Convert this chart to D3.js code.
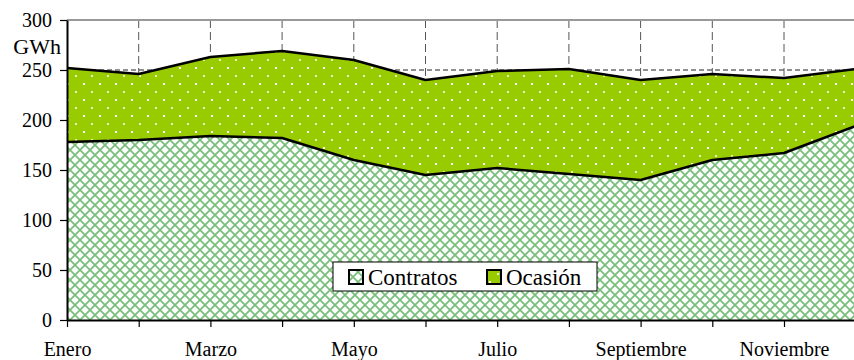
<!DOCTYPE html>
<html>
<head>
<meta charset="utf-8">
<script src="https://cdn.jsdelivr.net/npm/d3@7"></script>
<style>
  body { margin: 0; background: #fff; }
  svg text { font-family: "Liberation Serif", "Times New Roman", "DejaVu Serif", serif; }
</style>
</head>
<body>
<div class="container"></div>
<script>
var width = 854,
    height = 360,
    plotLeft = 67,
    plotTop = 20,
    plotBottom = 320,
    step = 71.7,
    serif = '"Liberation Serif", "Times New Roman", serif';

var months = ['Enero', 'Febrero', 'Marzo', 'Abril', 'Mayo', 'Junio', 'Julio',
              'Agosto', 'Septiembre', 'Octubre', 'Noviembre', 'Diciembre'];
var contratos = [178, 180, 184, 182, 160, 145, 152, 146, 140, 160, 167, 194];
var ocasion = [74, 66, 79, 87, 100, 95, 97, 105, 100, 86, 75, 57];
var yTicks = [0, 50, 100, 150, 200, 250, 300];
var keys = ['Contratos', 'Ocasión'];

var rows = months.map((m, i) => ({ mes: m, 'Contratos': contratos[i], 'Ocasión': ocasion[i] }));

var svg = d3.select('.container').append('svg')
    .attr('width', width)
    .attr('height', height)
    .style('display', 'block');

var x = d3.scalePoint()
    .domain(months)
    .range([plotLeft, plotLeft + step * (months.length - 1)]);

var y = d3.scaleLinear()
    .domain([0, 300])
    .range([plotBottom, plotTop]);

// patterns
var defs = svg.append('defs');

var hatch = defs.append('pattern')
    .attr('id', 'hatch')
    .attr('patternUnits', 'userSpaceOnUse')
    .attr('width', 10).attr('height', 10);
hatch.append('rect').attr('width', 10).attr('height', 10).attr('fill', '#fff');
hatch.append('path')
    .attr('d', 'M-1,-1L11,11M-1,11L11,-1')
    .attr('stroke', '#1f9424')
    .attr('stroke-opacity', 0.6)
    .attr('stroke-width', 1.8);

var dots = defs.append('pattern')
    .attr('id', 'dots')
    .attr('patternUnits', 'userSpaceOnUse')
    .attr('width', 16).attr('height', 16);
dots.append('rect').attr('width', 16).attr('height', 16).attr('fill', '#99cc00');
dots.append('rect').attr('x', 3).attr('y', 3).attr('width', 2).attr('height', 2).attr('fill', '#fff');
dots.append('rect').attr('x', 11).attr('y', 11).attr('width', 2).attr('height', 2).attr('fill', '#fff').attr('opacity', 0.75);

var fills = { 'Contratos': 'url(#hatch)', 'Ocasión': 'url(#dots)' };

// grid
var grid = svg.append('g');
grid.selectAll('.hgrid')
    .data(yTicks.filter(d => d > 0 && d < 300))
    .enter().append('line')
    .attr('x1', plotLeft).attr('x2', width)
    .attr('y1', d => y(d)).attr('y2', d => y(d))
    .attr('stroke', '#222')
    .attr('stroke-dasharray', '5,3');

grid.selectAll('.vgrid')
    .data(months.slice(1))
    .enter().append('line')
    .attr('x1', d => x(d)).attr('x2', d => x(d))
    .attr('y1', plotTop).attr('y2', plotBottom)
    .attr('stroke', '#555')
    .attr('stroke-dasharray', '8,4');

grid.append('line')
    .attr('x1', plotLeft).attr('x2', width)
    .attr('y1', y(300)).attr('y2', y(300))
    .attr('stroke', '#999')
    .attr('stroke-width', 2);

// stacked areas
var series = d3.stack().keys(keys)(rows);

var area = d3.area()
    .x(d => x(d.data.mes))
    .y0(d => y(d[0]))
    .y1(d => y(d[1]));

var line = d3.line()
    .x(d => x(d.data.mes))
    .y(d => y(d[1]));

svg.append('g').selectAll('path')
    .data(series)
    .enter().append('path')
    .attr('d', area)
    .attr('fill', d => fills[d.key]);

svg.append('g').selectAll('path')
    .data(series)
    .enter().append('path')
    .attr('d', line)
    .attr('fill', 'none')
    .attr('stroke', '#000')
    .attr('stroke-width', 2.5)
    .attr('stroke-linejoin', 'round');

// axes
var yAxis = svg.append('g')
    .attr('transform', 'translate(' + plotLeft + ',0)')
    .call(d3.axisLeft(y).tickValues(yTicks).tickSize(7).tickSizeOuter(0).tickPadding(8));

var xAxis = svg.append('g')
    .attr('transform', 'translate(0,' + plotBottom + ')')
    .call(d3.axisBottom(x).tickSize(7).tickSizeOuter(0).tickPadding(15)
        .tickFormat((d, i) => i % 2 === 0 ? d : ''));

[yAxis, xAxis].forEach(a => {
    a.attr('font-family', serif).attr('font-size', 20);
    a.select('.domain').attr('stroke', '#000').attr('stroke-width', 2);
    a.selectAll('.tick line').attr('stroke', '#000').attr('stroke-width', 1.2);
    a.selectAll('text').attr('fill', '#000');
});

svg.append('text')
    .attr('x', 61).attr('y', 54)
    .attr('text-anchor', 'end')
    .attr('font-family', serif)
    .attr('font-size', 22)
    .text('GWh');

// legend
var legend = svg.append('g').attr('transform', 'translate(333,262)');
legend.append('rect')
    .attr('width', 264).attr('height', 29)
    .attr('fill', '#fff')
    .attr('stroke', '#000');

var item = legend.selectAll('.item')
    .data(keys)
    .enter().append('g')
    .attr('transform', (d, i) => 'translate(' + (15 + i * 138) + ',0)');

item.append('rect')
    .attr('x', 1).attr('y', 8)
    .attr('width', 14).attr('height', 14)
    .attr('fill', d => fills[d])
    .attr('stroke', '#000')
    .attr('stroke-width', 2);

item.append('text')
    .attr('x', 20).attr('y', 23)
    .attr('font-family', serif)
    .attr('font-size', 23)
    .text(d => d);
</script>
</body>
</html>
